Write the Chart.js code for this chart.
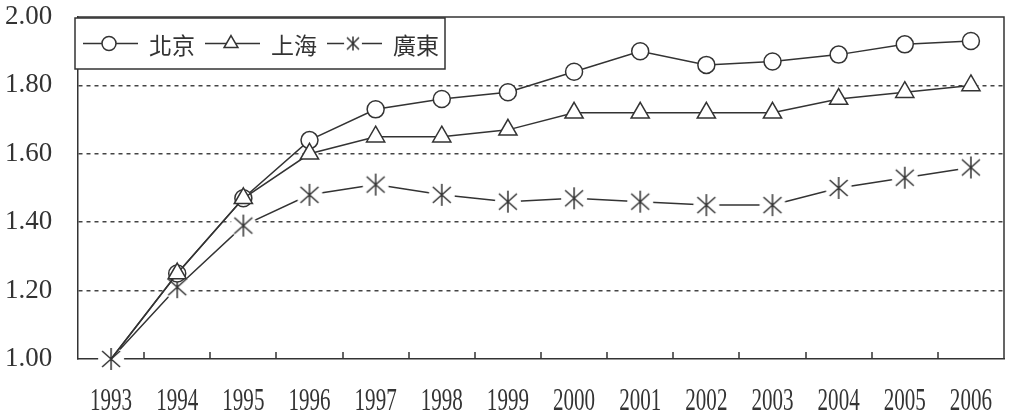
<!DOCTYPE html>
<html><head><meta charset="utf-8">
<script src="https://cdn.jsdelivr.net/npm/chart.js@4/dist/chart.umd.min.js"></script>
<style>html,body{margin:0;padding:0;background:#fff}#wrap{width:1016px;height:419px}</style>
</head><body><div id="wrap"><canvas id="c" width="1016" height="419"></canvas></div>
<script>
const years = ['1993','1994','1995','1996','1997','1998','1999','2000','2001','2002','2003','2004','2005','2006'];
const beijing   = [1.00,1.25,1.47,1.64,1.73,1.76,1.78,1.84,1.90,1.86,1.87,1.89,1.92,1.93];
const shanghai  = [1.00,1.25,1.47,1.60,1.65,1.65,1.67,1.72,1.72,1.72,1.72,1.76,1.78,1.80];
const guangdong = [1.00,1.21,1.39,1.48,1.51,1.48,1.46,1.47,1.46,1.45,1.45,1.50,1.53,1.56];
const seriesNames = ['北京','上海','廣東'];
const yTicks = [1.00,1.20,1.40,1.60,1.80,2.00];

const INK = '#333';
const SERIF = "'Liberation Serif','Times New Roman',serif";

function makeStar(rv, dx, dy, halo) {
  const s = Math.ceil(halo * 2 + 2);
  const c = document.createElement('canvas');
  c.width = s; c.height = s;
  const g = c.getContext('2d');
  const m = s / 2;
  g.fillStyle = '#fff';
  g.beginPath(); g.arc(m, m, halo, 0, Math.PI * 2); g.fill();
  g.strokeStyle = INK; g.lineWidth = 1.5;
  g.beginPath();
  g.moveTo(m, m - rv); g.lineTo(m, m + rv);
  g.moveTo(m - dx, m - dy); g.lineTo(m + dx, m + dy);
  g.moveTo(m + dx, m - dy); g.lineTo(m - dx, m + dy);
  g.stroke();
  return c;
}
const starBig = makeStar(11, 9, 8, 13);
const starSmall = makeStar(7, 6, 6, 9);

const framePlugin = {
  id: 'frame',
  beforeDatasetsDraw(chart) {
    const {ctx, chartArea: a, scales: {x}} = chart;
    ctx.save();
    ctx.strokeStyle = INK; ctx.lineWidth = 1.5;
    ctx.beginPath();
    ctx.moveTo(a.left, a.top); ctx.lineTo(a.right, a.top); ctx.lineTo(a.right, a.bottom);
    for (let i = 0; i < years.length - 1; i++) {
      const px = Math.round((x.getPixelForValue(i) + x.getPixelForValue(i + 1)) / 2);
      ctx.moveTo(px, a.bottom); ctx.lineTo(px, a.bottom - 7);
    }
    ctx.stroke();
    ctx.restore();
  },
  afterDraw(chart) {
    // narrow serif year labels under the category axis
    const {ctx, chartArea: a, scales: {x}} = chart;
    ctx.save();
    ctx.font = "31px " + SERIF;
    ctx.fillStyle = INK;
    ctx.textAlign = 'center';
    ctx.textBaseline = 'alphabetic';
    x.ticks.forEach((t, i) => {
      ctx.save();
      ctx.translate(x.getPixelForTick(i), a.bottom + 51);
      ctx.scale(0.68, 1);
      ctx.fillText(x.getLabelForValue(t.value), 0, 0);
      ctx.restore();
    });
    ctx.restore();
  }
};

const legendPlugin = {
  id: 'boxLegend',
  afterDatasetsDraw(chart) {
    const {ctx, chartArea: a} = chart;
    const bx = a.left - 3, by = a.top + 1, bw = 370, bh = 51;
    ctx.save();
    ctx.fillStyle = '#fff';
    ctx.fillRect(bx, by, bw, bh);
    ctx.strokeStyle = INK; ctx.lineWidth = 1.5;
    ctx.strokeRect(bx, by, bw, bh);
    const cy = by + 25.5;
    const styles = ['circle', 'triangle', null];
    const radii = [7, 8, 0];
    ctx.font = "23px 'Noto Sans CJK TC', sans-serif";
    ctx.textBaseline = 'middle';
    for (let i = 0; i < 3; i++) {
      const x0 = bx + 8 + i * 122;
      const xm = x0 + 26;
      ctx.strokeStyle = INK; ctx.lineWidth = 1.5;
      ctx.beginPath(); ctx.moveTo(x0, cy); ctx.lineTo(x0 + 55, cy); ctx.stroke();
      if (styles[i]) {
        ctx.fillStyle = '#fff';
        Chart.helpers.drawPoint(ctx, {pointStyle: styles[i], radius: radii[i], borderWidth: 1.5, rotation: 0}, xm, cy);
      } else {
        ctx.drawImage(starSmall, xm - starSmall.width / 2, cy - starSmall.height / 2);
      }
      ctx.fillStyle = INK;
      ctx.fillText(seriesNames[i], x0 + 66, cy + 2);
    }
    ctx.restore();
  }
};

const common = {
  borderColor: INK, borderWidth: 1.5, pointBorderColor: INK, pointBackgroundColor: '#fff',
  pointBorderWidth: 1.5, fill: false, tension: 0, clip: false
};

new Chart(document.getElementById('c'), {
  type: 'line',
  data: {
    labels: years,
    datasets: [
      Object.assign({}, common, {label: seriesNames[0], data: beijing, order: 1, pointStyle: 'circle',
        pointRadius: c => c.dataIndex === 0 ? 0 : 8.5}),
      Object.assign({}, common, {label: seriesNames[1], data: shanghai, order: 0, pointStyle: 'triangle',
        pointRadius: c => c.dataIndex === 0 ? 0 : 10.5}),
      Object.assign({}, common, {label: seriesNames[2], data: guangdong, order: 2, pointStyle: starBig,
        pointRadius: 10})
    ]
  },
  options: {
    responsive: false, devicePixelRatio: 1, animation: false,
    layout: {padding: {left: 5, right: 3, top: 17, bottom: 0}},
    plugins: {legend: {display: false}, tooltip: {enabled: false}},
    scales: {
      x: {
        type: 'category', offset: true,
        grid: {display: false, drawTicks: false},
        border: {display: true, color: INK, width: 1.5},
        ticks: {display: false, autoSkip: false},
        afterFit: s => { s.height = 60; s.paddingLeft = 0; s.paddingRight = 0; s.paddingTop = 0; s.paddingBottom = 0; }
      },
      y: {
        min: 1, max: 2,
        afterBuildTicks: s => { s.ticks = yTicks.map(v => ({value: v})); },
        grid: {drawTicks: false, lineWidth: 1.5,
          color: c => (c.tick && c.tick.value > 1.001 && c.tick.value < 1.999) ? '#444' : 'rgba(0,0,0,0)'},
        border: {display: true, color: INK, width: 1.5, dash: [4, 4]},
        ticks: {font: {family: SERIF, size: 27}, color: INK, crossAlign: 'far', padding: 20,
          callback: v => Number(v).toFixed(2)},
        afterFit: s => { s.width = 73; s.paddingTop = 0; s.paddingBottom = 0; s.paddingLeft = 0; s.paddingRight = 0; }
      }
    }
  },
  plugins: [framePlugin, legendPlugin]
});
</script></body></html>
